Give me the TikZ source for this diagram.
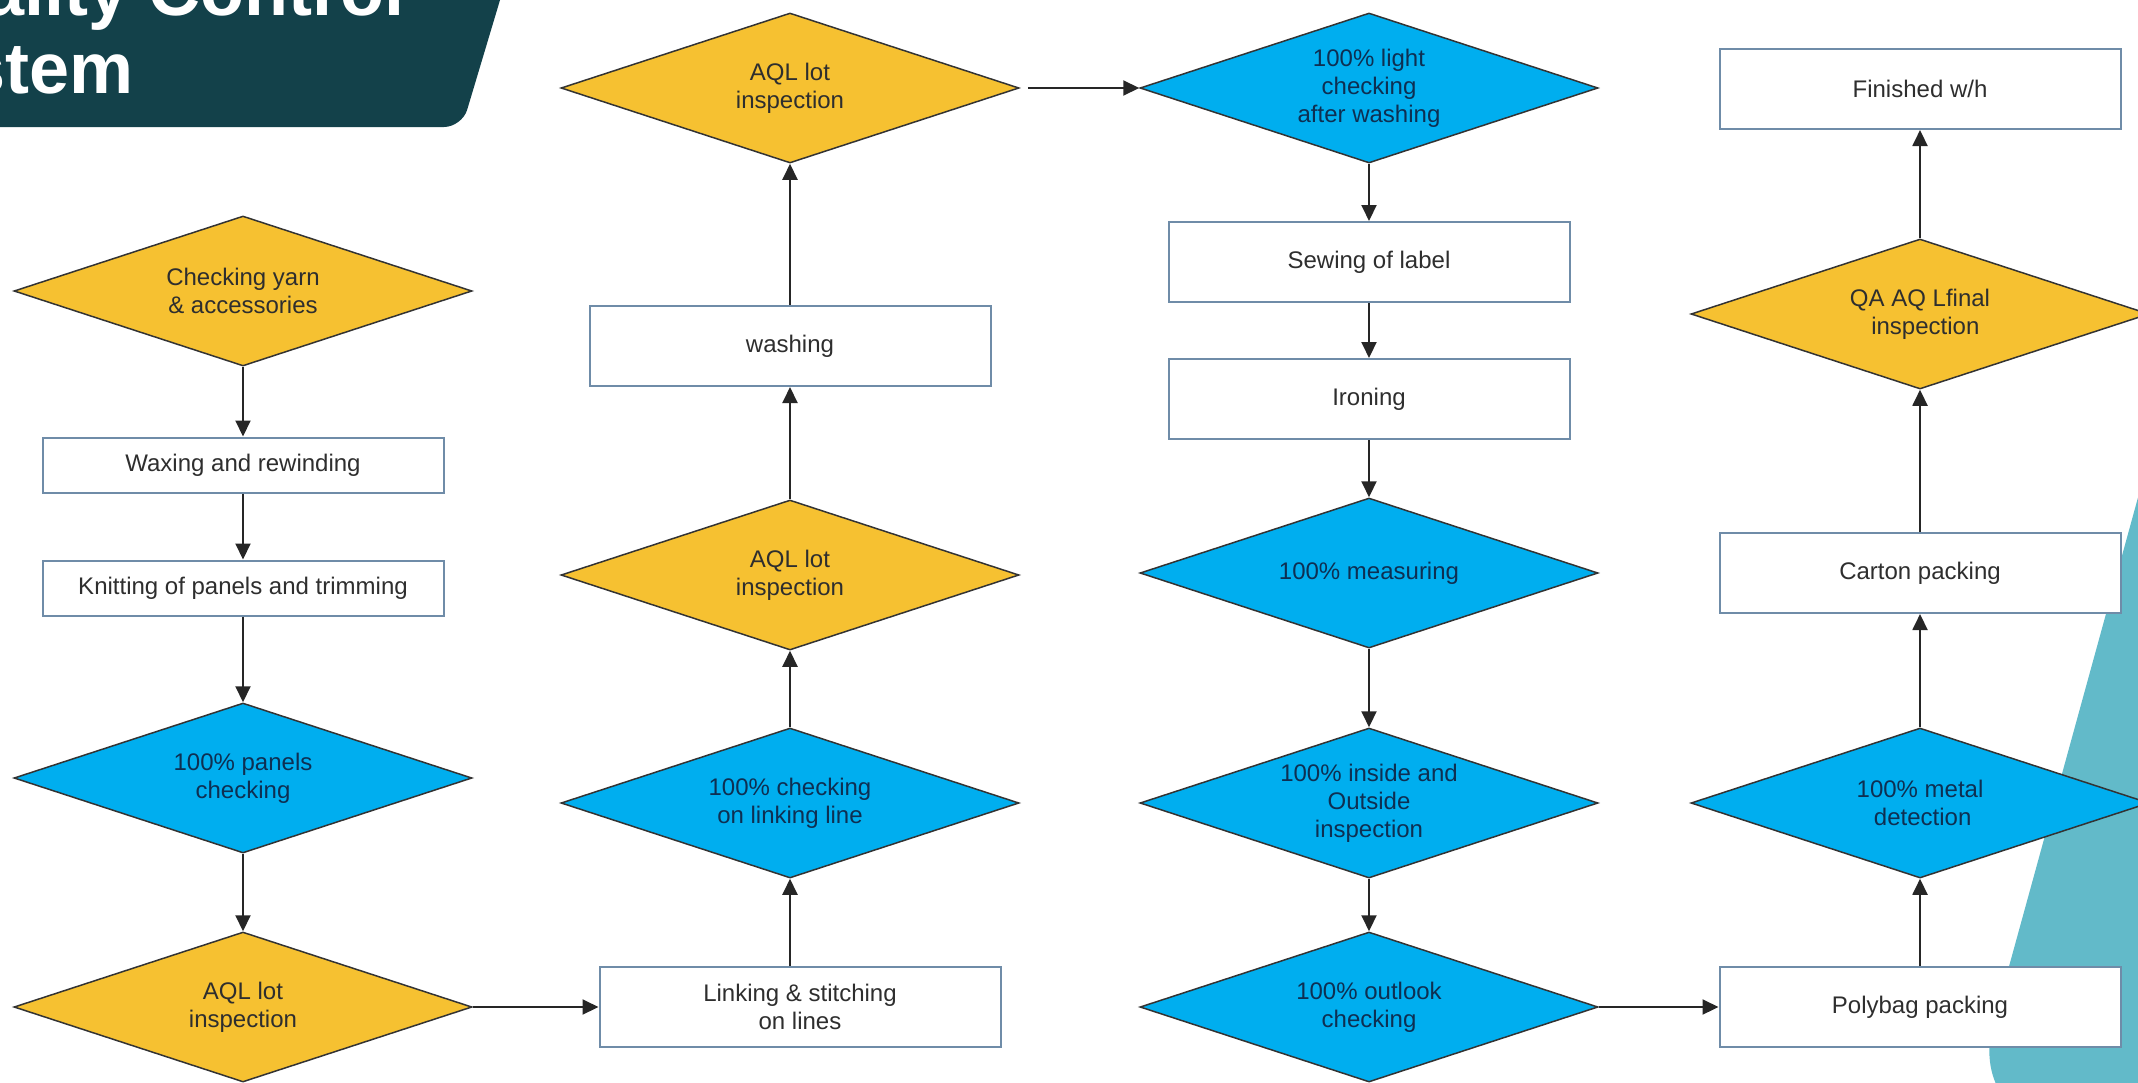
\documentclass[tikz,border=0pt]{standalone}
\usepackage{fontspec}
\setmainfont{Liberation Sans}
\usetikzlibrary{shapes.geometric,arrows.meta}
\definecolor{qyellow}{HTML}{F6C131}
\definecolor{qblue}{HTML}{00AEEF}
\definecolor{qteal}{HTML}{62BAC9}
\definecolor{qdark}{HTML}{13414A}
\definecolor{qbox}{HTML}{6F8CA8}
\definecolor{qnavy}{HTML}{0E2F52}
\definecolor{qtext}{HTML}{2E2E2E}
\begin{document}
\begin{tikzpicture}[x=1pt,y=-1pt,
  font=\fontsize{24}{28}\selectfont,
  dia/.style={diamond, draw=black!80, line width=1.5pt, aspect=3.05,
    minimum width=458pt, minimum height=150pt, inner sep=0pt, align=center},
  ydia/.style={dia, fill=qyellow, text=qtext},
  bdia/.style={dia, fill=qblue, text=qnavy},
  pbox/.style={rectangle, draw=qbox, line width=2pt, fill=white,
    minimum width=401pt, minimum height=80pt, inner sep=0pt, align=center, text=qtext},
  sbox/.style={pbox, minimum height=55pt},
  titletext/.style={anchor=base east, text=white, inner sep=0pt, font=\fontsize{72}{80}\selectfont\bfseries},
  flow/.style={-{Triangle[length=16pt,width=15pt]}, line width=2pt, black!85}
]
\useasboundingbox (0,0) rectangle (2138,1082);
% background shapes
\fill[qteal] (2200,272) [rounded corners=110pt] -- (1964,1130) -- (2300,1130) [sharp corners] -- (2300,272) -- cycle;
\fill[qdark, rounded corners=18pt] (-20,-20) -- (506,-20) -- (462,127) -- (-20,127) -- cycle;
\node[titletext] (title1) at (405,15) {Quality Control};
\node[titletext] (title2) at (134,93) {System};

% column 1
\node[ydia] (yarn) at (243,291) {Checking yarn\\\& accessories};
\node[sbox] (wax) at (243,465) {Waxing and rewinding};
\node[sbox] (knit) at (243,588) {Knitting of panels and trimming};
\node[bdia] (panels) at (243,778) {100\% panels\\checking};
\node[ydia] (aqlA) at (243,1007) {AQL lot\\inspection};
% column 2
\node[pbox] (link) at (800,1007) {Linking \& stitching\\on lines};
\node[bdia] (chklink) at (790,803) {100\% checking\\on linking line};
\node[ydia] (aqlB) at (790,575) {AQL lot\\inspection};
\node[pbox] (wash) at (790,346) {washing};
\node[ydia] (aqlC) at (790,88) {AQL lot\\inspection};
% column 3
\node[bdia] (light) at (1369,88) {100\% light\\checking\\after washing};
\node[pbox] (sew) at (1369,262) {Sewing of label};
\node[pbox] (iron) at (1369,399) {Ironing};
\node[bdia] (meas) at (1369,573) {100\% measuring};
\node[bdia] (inout) at (1369,803) {100\% inside and\\Outside\\inspection};
\node[bdia] (outlook) at (1369,1007) {100\% outlook\\checking};
% column 4
\node[pbox] (poly) at (1920,1007) {Polybag packing};
\node[bdia] (metal) at (1920,803) {100\% metal\\\hphantom{i}detection};
\node[pbox] (carton) at (1920,573) {Carton packing};
\node[ydia] (qa) at (1920,314) {QA AQ Lfinal\\\hphantom{ii}inspection};
\node[pbox] (fin) at (1920,89) {Finished w/h};

% connectors
\draw[flow] (yarn.south) -- (wax.north);
\draw[flow] (wax.south) -- (knit.north);
\draw[flow] (knit.south) -- (panels.north);
\draw[flow] (panels.south) -- (aqlA.north);
\draw[flow] (aqlA.east) -- (link.west);
\draw[flow] (chklink.south |- link.north) -- (chklink.south);
\draw[flow] (chklink.north) -- (aqlB.south);
\draw[flow] (aqlB.north) -- (wash.south);
\draw[flow] (wash.north) -- (aqlC.south);
\draw[flow] ([xshift=8pt]aqlC.east) -- (light.west);
\draw[flow] (light.south) -- (sew.north);
\draw[flow] (sew.south) -- (iron.north);
\draw[flow] (iron.south) -- (meas.north);
\draw[flow] (meas.south) -- (inout.north);
\draw[flow] (inout.south) -- (outlook.north);
\draw[flow] (outlook.east) -- (poly.west);
\draw[flow] (poly.north) -- (metal.south);
\draw[flow] (metal.north) -- (carton.south);
\draw[flow] (carton.north) -- (qa.south);
\draw[flow] (qa.north) -- (fin.south);
\end{tikzpicture}
\end{document}
